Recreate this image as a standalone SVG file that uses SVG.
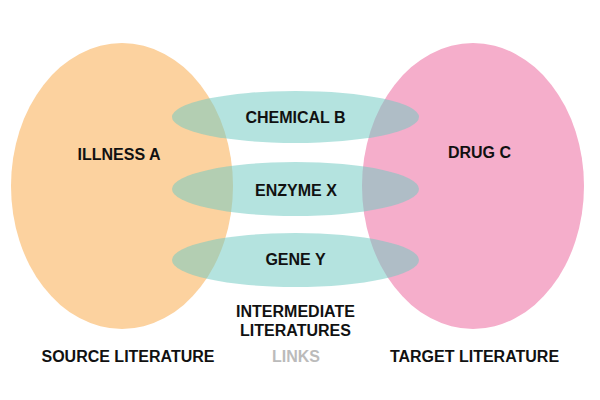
<svg xmlns="http://www.w3.org/2000/svg" width="600" height="400" viewBox="0 0 600 400">
<style>
text{font-family:"Liberation Sans",Arial,Helvetica,sans-serif;font-weight:bold;font-size:16px;fill:#111;text-anchor:middle}
.link{fill:#71cac2;fill-opacity:0.53}
.muted{fill:#bbbbbb}
</style>
<rect width="600" height="400" fill="#ffffff"/>
<g id="source">
<ellipse cx="122" cy="186" rx="111" ry="143" fill="#fcd29f"/>
<text x="119" y="160">ILLNESS A</text>
</g>
<g id="target">
<ellipse cx="473" cy="186" rx="111" ry="143" fill="#f5aecb"/>
<text x="479.5" y="158">DRUG C</text>
</g>
<g id="chemical-b">
<ellipse class="link" cx="295.5" cy="117" rx="123.5" ry="26"/>
<text x="295.5" y="123">CHEMICAL B</text>
</g>
<g id="enzyme-x">
<ellipse class="link" cx="295.5" cy="189" rx="123.5" ry="27"/>
<text x="296" y="196">ENZYME X</text>
</g>
<g id="gene-y">
<ellipse class="link" cx="295.5" cy="260" rx="123.5" ry="27"/>
<text x="295.5" y="265">GENE Y</text>
</g>
<g id="labels">
<text x="295.5" y="317">INTERMEDIATE</text>
<text x="295.5" y="336">LITERATURES</text>
<text x="128" y="362">SOURCE LITERATURE</text>
<text class="muted" x="296" y="362">LINKS</text>
<text x="474.5" y="362">TARGET LITERATURE</text>
</g>
</svg>
